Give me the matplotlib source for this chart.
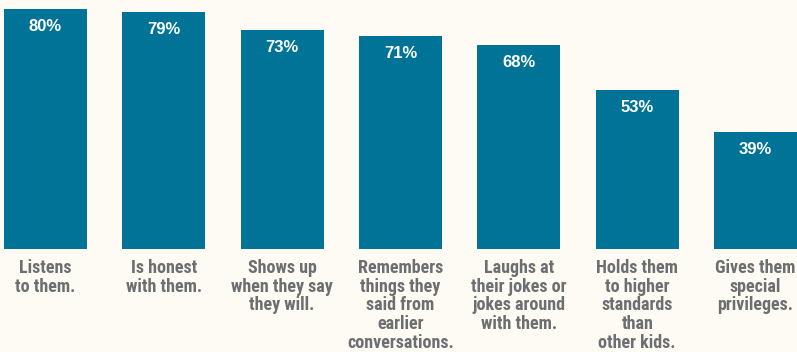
import matplotlib
matplotlib.use("Agg")
import matplotlib.pyplot as plt
from matplotlib import font_manager
from matplotlib.font_manager import FontProperties
import os

categories = [
    "Listens\nto them.",
    "Is honest\nwith them.",
    "Shows up\nwhen they say\nthey will.",
    "Remembers\nthings they\nsaid from\nearlier\nconversations.",
    "Laughs at\ntheir jokes or\njokes around\nwith them.",
    "Holds them\nto higher\nstandards\nthan\nother kids.",
    "Gives them\nspecial\nprivileges.",
]
values = [80, 79, 73, 71, 68, 53, 39]
value_labels = ["80%", "79%", "73%", "71%", "68%", "53%", "39%"]

files = {os.path.basename(f.fname): f.fname for f in font_manager.fontManager.ttflist}
prefs = ["RobotoCondensed-Bold.ttf", "FiraSansCondensed-Bold.ttf",
         "IBMPlexSansCondensed-Bold.ttf", "AsapCondensed-Bold.ttf",
         "BarlowSemiCondensed-Bold.ttf", "BarlowCondensed-Bold.ttf"]
cat_fp = None
for p in prefs:
    if p in files:
        cat_fp = FontProperties(fname=files[p], size=13)
        break
if cat_fp is None:
    cat_fp = FontProperties(family="DejaVu Sans", weight="bold", stretch="condensed", size=11)

bg = "#fdfbf3"
bar_color = "#007396"
label_color = "#6d6e71"

W, H = 797, 352
fig = plt.figure(figsize=(W / 100, H / 100), dpi=100, facecolor=bg)
ax = fig.add_axes([4 / W, (H - 249) / H, 793 / W, 240 / H])
ax.set_facecolor(bg)

x = list(range(len(values)))
ax.bar(x, values, width=0.70, color=bar_color)
ax.set_xlim(-0.35, len(values) - 1 + 0.35)
ax.set_ylim(0, 80)
ax.axis("off")

for xi, v, lab in zip(x, values, value_labels):
    ax.annotate(lab, (xi, v), xytext=(0, -7.5), textcoords="offset points",
                ha="center", va="top", color="white", fontsize=12,
                fontweight="bold", family=["Liberation Sans", "DejaVu Sans"])

for xi, cat in zip(x, categories):
    ax.annotate(cat, (xi, 0), xytext=(0, -7), textcoords="offset points",
                ha="center", va="top", color=label_color,
                fontproperties=cat_fp, linespacing=1.06)

fig.savefig("out.png", dpi=100, facecolor=bg)
